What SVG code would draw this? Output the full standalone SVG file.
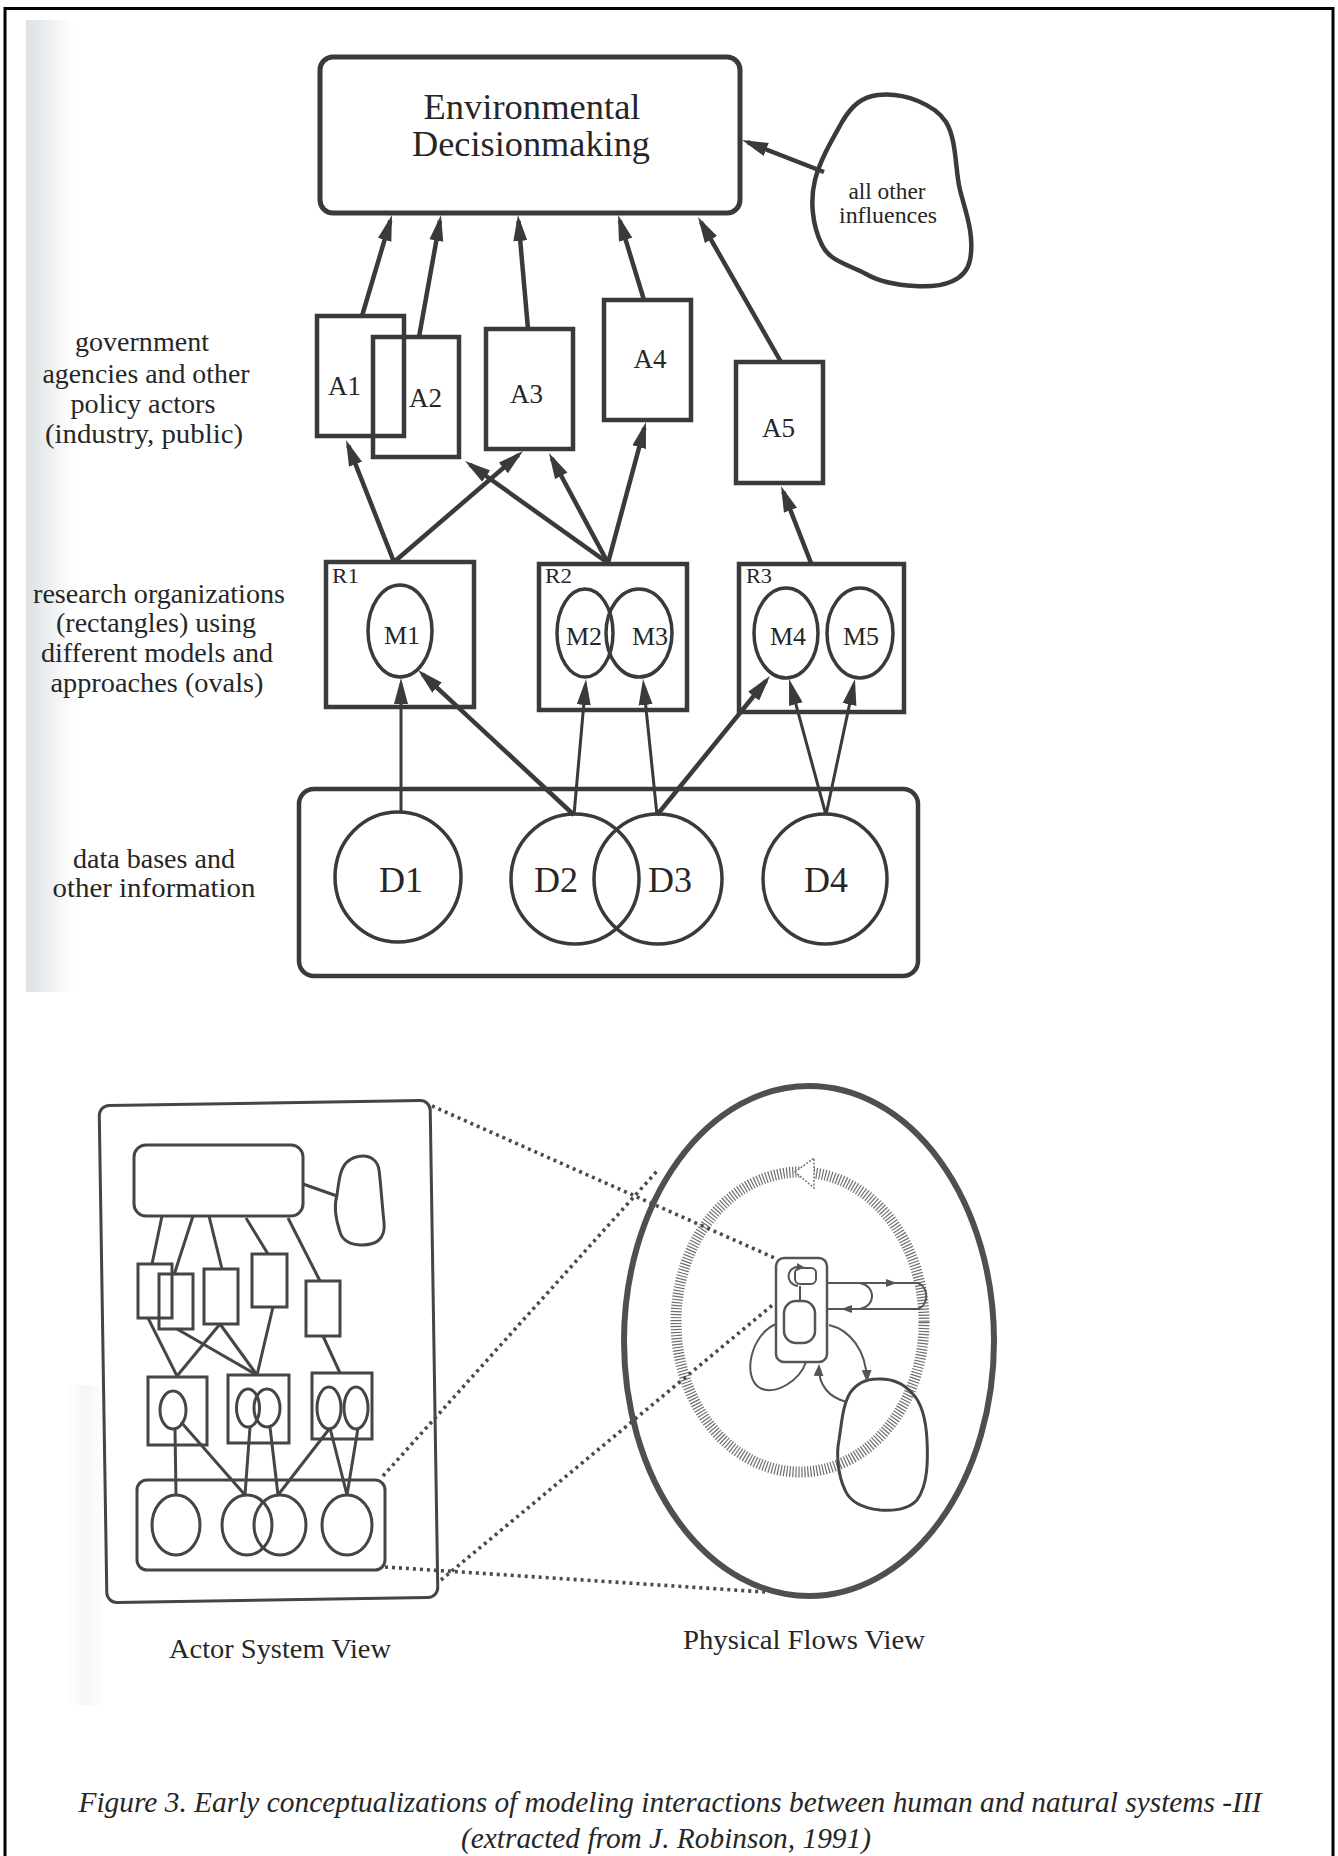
<svg xmlns="http://www.w3.org/2000/svg" width="1338" height="1856" viewBox="0 0 1338 1856">
<defs>
<linearGradient id="band" x1="0" y1="0" x2="1" y2="0">
<stop offset="0" stop-color="#dde1e4"/>
<stop offset="0.45" stop-color="#eceef0"/>
<stop offset="1" stop-color="#ffffff"/>
</linearGradient>
<linearGradient id="band2" x1="0" y1="0" x2="1" y2="0">
<stop offset="0" stop-color="#ffffff"/>
<stop offset="0.5" stop-color="#f5f6f7"/>
<stop offset="1" stop-color="#ffffff"/>
</linearGradient>
<marker id="ah" markerUnits="userSpaceOnUse" markerWidth="26" markerHeight="16" refX="20" refY="8" orient="auto" viewBox="0 0 26 16">
<path d="M0,1 L26,8 L0,15 z" fill="#3a3a3a"/>
</marker>
<marker id="sm" markerUnits="userSpaceOnUse" markerWidth="12" markerHeight="10" refX="10" refY="5" orient="auto" viewBox="0 0 12 10">
<path d="M0,0 L12,5 L0,10 z" fill="#555"/>
</marker>
<style>
.t{font-family:"Liberation Serif","Times New Roman",serif;fill:#262626}
.c{text-anchor:middle}
.box{fill:none;stroke:#3a3a3a;stroke-width:4.5}
.ov{fill:none;stroke:#3a3a3a;stroke-width:3.5}
.arr{fill:none;stroke:#3a3a3a;stroke-width:4.5;marker-end:url(#ah)}
.arr3{fill:none;stroke:#3a3a3a;stroke-width:3;marker-end:url(#ah)}
.sb{fill:none;stroke:#454545;stroke-width:3}
.sl{fill:none;stroke:#454545;stroke-width:3}
.dot{fill:none;stroke:#4a4a4a;stroke-width:3.6;stroke-dasharray:3 4}
.thin{fill:none;stroke:#555;stroke-width:2}
</style>
</defs>
<rect x="0" y="0" width="1338" height="1856" fill="#ffffff"/>
<rect x="26" y="20" width="48" height="972" fill="url(#band)"/>
<rect x="66" y="1385" width="40" height="320" fill="url(#band2)"/>
<path d="M5,1856 V8.5 H1333 V1856" fill="none" stroke="#000" stroke-width="3"/>

<!-- left side labels -->
<g id="label-actors">
<text class="t c" x="142" y="351" font-size="28" textLength="134" lengthAdjust="spacingAndGlyphs">government</text>
<text class="t c" x="146" y="383" font-size="28" textLength="207" lengthAdjust="spacingAndGlyphs">agencies and other</text>
<text class="t c" x="143" y="413" font-size="28" textLength="145" lengthAdjust="spacingAndGlyphs">policy actors</text>
<text class="t c" x="144" y="443" font-size="28" textLength="198" lengthAdjust="spacingAndGlyphs">(industry, public)</text>
</g>
<g id="label-research">
<text class="t c" x="159" y="603" font-size="28" textLength="252" lengthAdjust="spacingAndGlyphs">research organizations</text>
<text class="t c" x="156" y="632" font-size="28" textLength="200" lengthAdjust="spacingAndGlyphs">(rectangles) using</text>
<text class="t c" x="157" y="662" font-size="28" textLength="232" lengthAdjust="spacingAndGlyphs">different models and</text>
<text class="t c" x="157" y="692" font-size="28" textLength="213" lengthAdjust="spacingAndGlyphs">approaches (ovals)</text>
</g>
<g id="label-data">
<text class="t c" x="154" y="868" font-size="28" textLength="162" lengthAdjust="spacingAndGlyphs">data bases and</text>
<text class="t c" x="154" y="897" font-size="28" textLength="203" lengthAdjust="spacingAndGlyphs">other information</text>
</g>

<!-- connectors (top diagram) -->
<g id="connectors">
<line class="arr" x1="824" y1="172" x2="747.6" y2="142.2"/>
<line class="arr" x1="362" y1="316" x2="390.3" y2="220.7"/>
<line class="arr" x1="419" y1="337" x2="439.9" y2="220.9"/>
<line class="arr" x1="528" y1="329" x2="518.5" y2="221"/>
<line class="arr" x1="644" y1="300" x2="619.8" y2="220.7"/>
<line class="arr" x1="781" y1="362" x2="701" y2="222.2"/>
<line class="arr" x1="394" y1="562" x2="348.2" y2="445.6"/>
<line class="arr" x1="394" y1="562" x2="518.5" y2="454.9"/>
<line class="arr" x1="608" y1="563" x2="469.9" y2="464.5"/>
<line class="arr" x1="608" y1="563" x2="551.8" y2="458.3"/>
<line class="arr" x1="608" y1="563" x2="644.4" y2="427.8"/>
<line class="arr" x1="811" y1="563" x2="783.2" y2="491.6"/>
<line class="arr3" x1="401" y1="812" x2="401" y2="684"/>
<line class="arr" x1="574" y1="815" x2="422.4" y2="674.1"/>
<line class="arr3" x1="574" y1="815" x2="585.5" y2="685"/>
<line class="arr3" x1="657" y1="815" x2="643.6" y2="685"/>
<line class="arr" x1="657" y1="815" x2="766.2" y2="680.7"/>
<line class="arr3" x1="826" y1="815" x2="790.6" y2="684.8"/>
<line class="arr3" x1="826" y1="815" x2="853.7" y2="684.9"/>
</g>

<g id="env">
<rect x="320" y="57" width="420" height="156" rx="13" fill="none" stroke="#3a3a3a" stroke-width="5"/>
<text class="t c" x="532" y="119" font-size="35" textLength="217" lengthAdjust="spacingAndGlyphs">Environmental</text>
<text class="t c" x="531" y="156" font-size="35" textLength="238" lengthAdjust="spacingAndGlyphs">Decisionmaking</text>
</g>
<g id="influences">
<path d="M878,95 C905,92 935,105 946,122 C957,140 955,170 960,190 C965,210 975,235 970,260 C966,280 945,288 915,286 C895,285 880,282 866,274 C850,265 830,262 822,245 C812,225 810,200 815,180 C820,160 832,140 842,122 C852,105 862,97 878,95 Z" fill="none" stroke="#3a3a3a" stroke-width="4.5" stroke-linejoin="round"/>
<text class="t c" x="887" y="199" font-size="23" textLength="77" lengthAdjust="spacingAndGlyphs">all other</text>
<text class="t c" x="888" y="223" font-size="23" textLength="98" lengthAdjust="spacingAndGlyphs">influences</text>
</g>

<g id="A1"><rect class="box" x="317" y="316" width="87" height="120"/><text class="t c" x="344.5" y="395" font-size="27">A1</text></g>
<g id="A2"><rect class="box" x="373" y="337" width="86" height="120"/><text class="t c" x="425.5" y="407" font-size="27">A2</text></g>
<g id="A3"><rect class="box" x="486" y="329" width="87" height="120"/><text class="t c" x="526.5" y="403" font-size="27">A3</text></g>
<g id="A4"><rect class="box" x="604" y="300" width="87" height="120"/><text class="t c" x="650" y="368" font-size="27">A4</text></g>
<g id="A5"><rect class="box" x="736" y="362" width="87" height="121"/><text class="t c" x="778.5" y="437" font-size="27">A5</text></g>

<g id="R1"><rect class="box" x="326" y="562" width="148" height="145"/><text class="t" x="332" y="583" font-size="21" textLength="27" lengthAdjust="spacingAndGlyphs">R1</text></g>
<g id="R2"><rect class="box" x="539" y="564" width="148" height="146"/><text class="t" x="545" y="583" font-size="21" textLength="27" lengthAdjust="spacingAndGlyphs">R2</text></g>
<g id="R3"><rect class="box" x="739" y="564" width="165" height="148"/><text class="t" x="746" y="583" font-size="21" textLength="26" lengthAdjust="spacingAndGlyphs">R3</text></g>

<g id="M1"><ellipse class="ov" cx="400" cy="631" rx="32" ry="46"/><text class="t c" x="402" y="644" font-size="26">M1</text></g>
<g id="M2"><ellipse class="ov" cx="585" cy="633" rx="28" ry="44"/><text class="t c" x="584" y="645" font-size="26">M2</text></g>
<g id="M3"><ellipse class="ov" cx="639" cy="633" rx="33" ry="44"/><text class="t c" x="650" y="645" font-size="26">M3</text></g>
<g id="M4"><ellipse class="ov" cx="786" cy="633" rx="32" ry="45"/><text class="t c" x="788" y="645" font-size="26">M4</text></g>
<g id="M5"><ellipse class="ov" cx="860" cy="633" rx="33" ry="45"/><text class="t c" x="861" y="645" font-size="26">M5</text></g>

<g id="databox"><rect x="299" y="789" width="619" height="187" rx="15" fill="none" stroke="#3a3a3a" stroke-width="4.5"/></g>
<g id="D1"><ellipse class="ov" cx="398" cy="877" rx="63" ry="65"/><text class="t c" x="401" y="892" font-size="36">D1</text></g>
<g id="D2"><ellipse class="ov" cx="575" cy="879" rx="64" ry="65"/><text class="t c" x="556" y="892" font-size="36">D2</text></g>
<g id="D3"><ellipse class="ov" cx="658" cy="879" rx="64" ry="65"/><text class="t c" x="670" y="892" font-size="36">D3</text></g>
<g id="D4"><ellipse class="ov" cx="825" cy="879" rx="62" ry="65"/><text class="t c" x="826" y="892" font-size="36">D4</text></g>

<!-- Actor system view (miniature) -->
<g id="actor-view">
<rect x="103" y="1103" width="331" height="497" rx="10" fill="none" stroke="#454545" stroke-width="3" transform="rotate(-0.9 268 1351)"/>
<rect class="sb" x="134" y="1145" width="169" height="71" rx="12"/>
<path class="sb" d="M363,1156 C372,1156 378,1162 379,1170 C381,1185 382,1205 384,1222 C386,1240 375,1245 362,1245 C350,1245 342,1240 340,1232 C336,1220 334,1205 337,1195 C339,1180 340,1170 346,1163 C351,1158 357,1156 363,1156 Z"/>
<rect class="sb" x="138" y="1264" width="34" height="54"/>
<rect class="sb" x="159" y="1274" width="34" height="55"/>
<rect class="sb" x="204" y="1269" width="34" height="55"/>
<rect class="sb" x="252" y="1254" width="35" height="53"/>
<rect class="sb" x="306" y="1281" width="34" height="55"/>
<rect class="sb" x="148" y="1377" width="59" height="68"/>
<rect class="sb" x="228" y="1375" width="61" height="68"/>
<rect class="sb" x="312" y="1373" width="60" height="66"/>
<ellipse class="sb" cx="173" cy="1410" rx="13" ry="19"/>
<ellipse class="sb" cx="248" cy="1408" rx="11.5" ry="19"/>
<ellipse class="sb" cx="267" cy="1408" rx="13" ry="19"/>
<ellipse class="sb" cx="329" cy="1408" rx="12" ry="21"/>
<ellipse class="sb" cx="356" cy="1408" rx="12" ry="21"/>
<rect class="sb" x="137" y="1480" width="248" height="90" rx="10"/>
<ellipse class="sb" cx="176" cy="1525" rx="24" ry="30"/>
<ellipse class="sb" cx="247" cy="1525" rx="25" ry="30"/>
<ellipse class="sb" cx="280" cy="1525" rx="26" ry="30"/>
<ellipse class="sb" cx="347" cy="1525" rx="25" ry="30"/>
<g id="actor-view-links">
<line class="sl" x1="303" y1="1184" x2="337" y2="1196"/>
<line class="sl" x1="162" y1="1216" x2="152" y2="1264"/>
<line class="sl" x1="193" y1="1216" x2="174" y2="1275"/>
<line class="sl" x1="209" y1="1216" x2="222" y2="1269"/>
<line class="sl" x1="246" y1="1218" x2="268" y2="1254"/>
<line class="sl" x1="288" y1="1218" x2="320" y2="1281"/>
<line class="sl" x1="148" y1="1318" x2="177" y2="1376"/>
<line class="sl" x1="177" y1="1329" x2="257" y2="1375"/>
<line class="sl" x1="220" y1="1324" x2="177" y2="1376"/>
<line class="sl" x1="220" y1="1324" x2="257" y2="1375"/>
<line class="sl" x1="273" y1="1307" x2="257" y2="1375"/>
<line class="sl" x1="323" y1="1336" x2="340" y2="1373"/>
<line class="sl" x1="175" y1="1429" x2="176" y2="1495"/>
<line class="sl" x1="181" y1="1422" x2="245" y2="1495"/>
<line class="sl" x1="250" y1="1427" x2="245" y2="1495"/>
<line class="sl" x1="270" y1="1427" x2="278" y2="1495"/>
<line class="sl" x1="330" y1="1428" x2="278" y2="1495"/>
<line class="sl" x1="330" y1="1428" x2="347" y2="1495"/>
<line class="sl" x1="358" y1="1428" x2="347" y2="1495"/>
</g>
<text class="t c" x="280" y="1658" font-size="27" textLength="222" lengthAdjust="spacingAndGlyphs">Actor System View</text>
</g>

<!-- projection lines -->
<g id="projection">
<line class="dot" x1="432" y1="1106" x2="777" y2="1259"/>
<line class="dot" x1="383" y1="1476" x2="658" y2="1170"/>
<line class="dot" x1="385" y1="1567" x2="765" y2="1592"/>
<line class="dot" x1="441" y1="1580" x2="775" y2="1303"/>
</g>

<!-- Physical flows view -->
<g id="physical-view">
<ellipse cx="809" cy="1341" rx="185" ry="255" fill="none" stroke="#4f4f4f" stroke-width="6"/>
<ellipse cx="800" cy="1322" rx="124" ry="150" fill="none" stroke="#555" stroke-width="11" stroke-dasharray="1.2 1.8" opacity="0.85"/>
<polygon points="795,1172 814,1158 814,1188" fill="#fff" stroke="#777" stroke-width="1.5" stroke-dasharray="2 1.5"/>
<path class="sb" d="M877,1379 C893,1378 905,1385 912,1393 C922,1403 926,1420 927,1440 C928,1460 928,1485 917,1500 C908,1510 893,1511 880,1510 C862,1508 850,1502 845,1490 C838,1475 836,1455 839,1440 C842,1420 843,1405 850,1393 C857,1383 866,1379 877,1379 Z" stroke="#555"/>
<rect x="776" y="1258" width="51" height="104" rx="8" fill="#fff" stroke="#555" stroke-width="2.5"/>
<rect x="795" y="1268" width="21" height="16" rx="5" fill="none" stroke="#555" stroke-width="2"/>
<path class="thin" d="M801,1267 C786,1265 784,1284 798,1286"/>
<polygon points="804,1267 797,1263 797,1271" fill="#555"/>
<line class="thin" x1="800" y1="1286" x2="800" y2="1301"/>
<rect x="784" y="1301" width="31" height="42" rx="12" fill="none" stroke="#555" stroke-width="2.5"/>
<line class="thin" x1="827" y1="1283" x2="920" y2="1283"/>
<line class="thin" x1="920" y1="1309" x2="827" y2="1309"/>
<polygon points="886,1279 897,1283 886,1287" fill="#555"/>
<polygon points="852,1305 841,1309 852,1313" fill="#555"/>
<path class="thin" d="M860,1283 C876,1286 876,1306 860,1309"/>
<path class="thin" d="M918,1283 C929,1287 929,1305 918,1309"/>
<path class="thin" d="M776,1324 C750,1335 742,1378 760,1388 C776,1396 800,1380 806,1362"/>
<path class="thin" d="M829,1325 C850,1330 866,1350 867,1380" marker-end="url(#sm)"/>
<path class="thin" d="M847,1402 C830,1398 818,1386 819,1366" marker-end="url(#sm)"/>
<text class="t c" x="804" y="1649" font-size="28" textLength="242" lengthAdjust="spacingAndGlyphs">Physical Flows View</text>
</g>

<g id="caption">
<text class="t c" x="670" y="1812" font-size="30" font-style="italic" textLength="1183" lengthAdjust="spacingAndGlyphs">Figure 3. Early conceptualizations of modeling interactions between human and natural systems -III</text>
<text class="t c" x="666" y="1848" font-size="30" font-style="italic" textLength="410" lengthAdjust="spacingAndGlyphs">(extracted from J. Robinson, 1991)</text>
</g>
</svg>
